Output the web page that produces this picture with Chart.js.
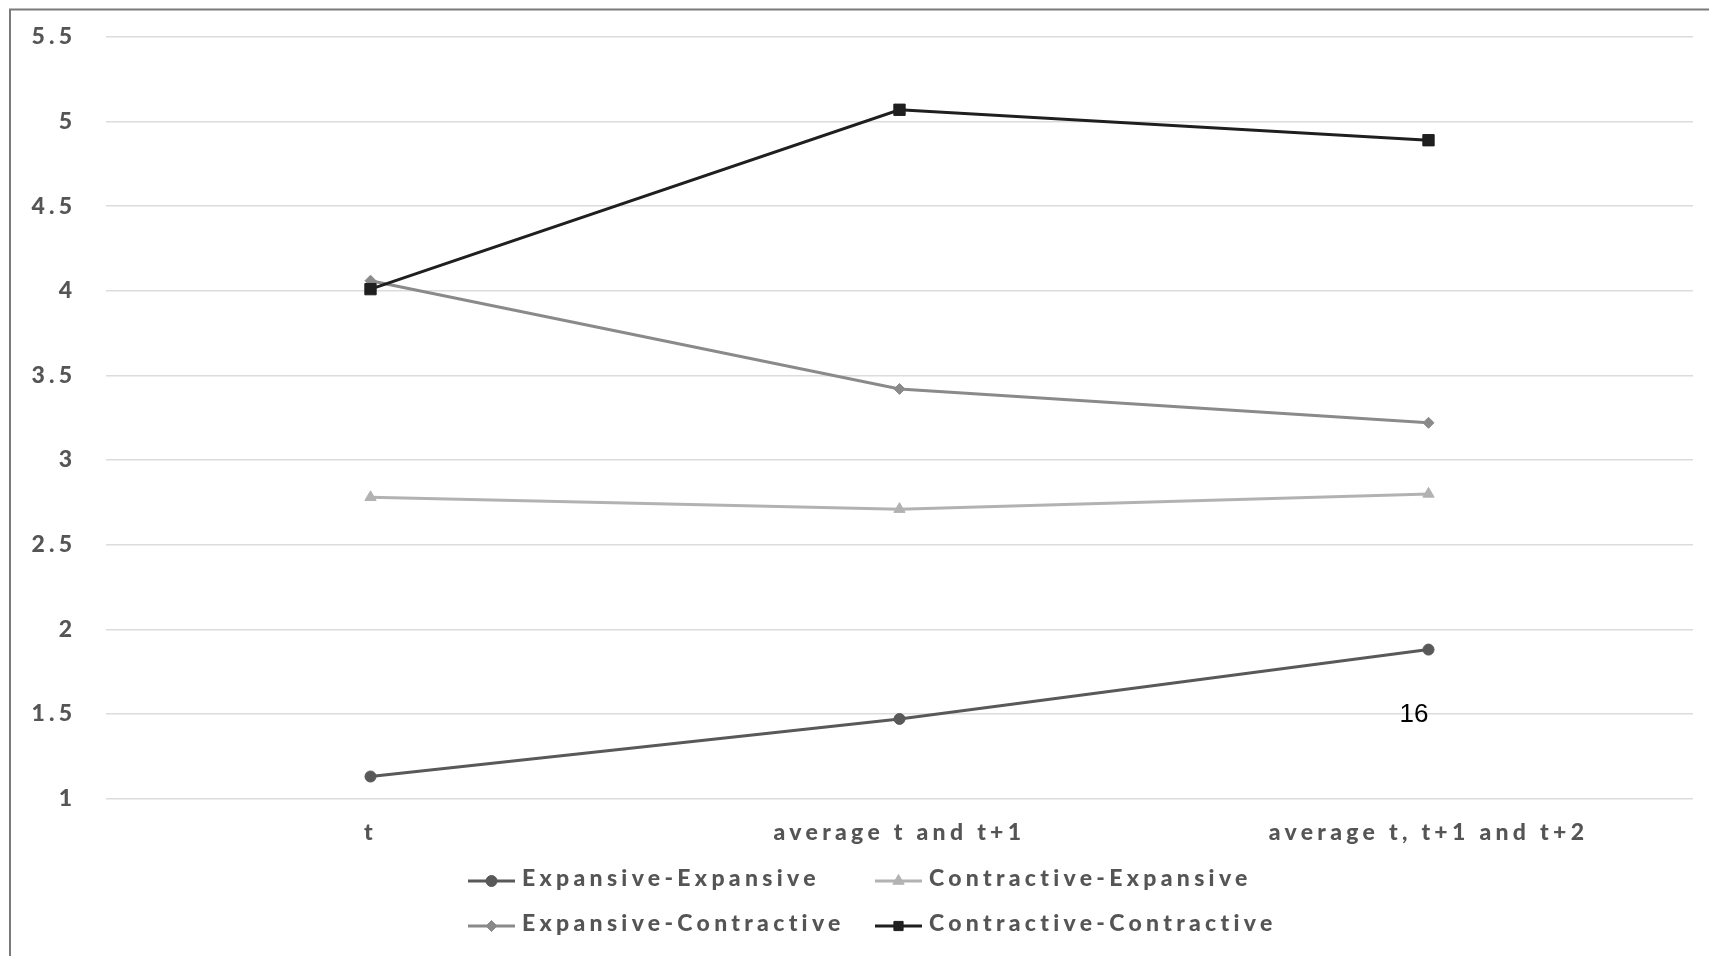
<!DOCTYPE html>
<html>
<head>
<meta charset="utf-8">
<script src="https://cdn.jsdelivr.net/npm/chart.js@4.4.1/dist/chart.umd.min.js"></script>
<style>
  html, body { margin: 0; padding: 0; background: #ffffff; }
  #wrap { position: relative; width: 1709px; height: 956px; }
</style>
</head>
<body>
<div id="wrap"><canvas id="c" width="1709" height="956"></canvas></div>
<script>
// ---- data ----
const categories = ['t', 'average t and t+1', 'average t, t+1 and t+2'];
const seriesNames = ['Expansive-Expansive', 'Contractive-Expansive', 'Expansive-Contractive', 'Contractive-Contractive'];
const expansiveExpansive = [1.13, 1.47, 1.88];
const contractiveExpansive = [2.78, 2.71, 2.80];
const expansiveContractive = [4.06, 3.42, 3.22];
const contractiveContractive = [4.01, 5.07, 4.89];
const yTickMin = 1;
const yTickMax = 5.5;
const yTickStep = 0.5;
const pageNumber = '16';

const TEXT = '#555555';
const FONT = 'Lato, "Open Sans", sans-serif';
const FONT_SIZE = 23;
const FONT_WEIGHT = '900';
const SPACING = '4.3px';

const styles = [
  { color: '#595959', point: 'circle', radius: 5.5 },
  { color: '#b2b2b2', point: 'triangle', radius: 6.5 },
  { color: '#8a8a8a', point: 'rectRot', radius: 5.5 },
  { color: '#1f1f1f', point: 'rect', radius: 8 }
];
const values = [expansiveExpansive, contractiveExpansive, expansiveContractive, contractiveContractive];

const datasets = seriesNames.map((name, i) => ({
  label: name,
  data: values[i],
  borderColor: styles[i].color,
  backgroundColor: styles[i].color,
  pointBackgroundColor: styles[i].color,
  pointBorderColor: styles[i].color,
  pointStyle: styles[i].point,
  pointRadius: styles[i].radius,
  pointHoverRadius: styles[i].radius,
  pointBorderWidth: 1,
  borderWidth: 3,
  tension: 0,
  order: 3 - i
}));

const spacingPlugin = {
  id: 'spacing',
  beforeLayout(chart) { chart.ctx.letterSpacing = SPACING; },
  beforeDraw(chart) { chart.ctx.letterSpacing = SPACING; }
};

const framePlugin = {
  id: 'frame',
  beforeDraw(chart) {
    const ctx = chart.ctx;
    ctx.save();
    ctx.fillStyle = '#ffffff';
    ctx.fillRect(0, 0, chart.width, chart.height);
    ctx.strokeStyle = '#7a7a7a';
    ctx.lineWidth = 2;
    ctx.beginPath();
    ctx.moveTo(10, 2000);
    ctx.lineTo(10, 9.5);
    ctx.lineTo(2000, 9.5);
    ctx.stroke();
    ctx.restore();
  }
};

const legendPlugin = {
  id: 'gridLegend',
  afterDraw(chart) {
    const ctx = chart.ctx;
    const cols = [468, 875];
    const rows = [881, 926];
    ctx.save();
    ctx.letterSpacing = SPACING;
    ctx.font = FONT_WEIGHT + ' ' + FONT_SIZE + 'px ' + FONT;
    ctx.textBaseline = 'alphabetic';
    ctx.textAlign = 'left';
    chart.data.datasets.forEach((ds, i) => {
      const x = cols[i % 2];
      const y = rows[Math.floor(i / 2)];
      ctx.strokeStyle = ds.borderColor;
      ctx.fillStyle = ds.borderColor;
      ctx.lineWidth = 3;
      ctx.beginPath();
      ctx.moveTo(x, y);
      ctx.lineTo(x + 47, y);
      ctx.stroke();
      ctx.lineWidth = 1;
      Chart.helpers.drawPoint(ctx, { pointStyle: ds.pointStyle, radius: Math.min(ds.pointRadius, 6.5), rotation: 0, borderWidth: 1 }, x + 23.5, y);
      ctx.fillStyle = TEXT;
      ctx.fillText(ds.label, x + 54, y + 5);
    });
    ctx.restore();
  }
};

const pageNumberPlugin = {
  id: 'pageNumber',
  afterDraw(chart) {
    const ctx = chart.ctx;
    ctx.save();
    ctx.letterSpacing = '0px';
    ctx.font = '26px "Liberation Sans", Arial, sans-serif';
    ctx.fillStyle = '#000000';
    ctx.textAlign = 'center';
    ctx.textBaseline = 'alphabetic';
    ctx.fillText(pageNumber, 1414, 722);
    ctx.restore();
  }
};

new Chart(document.getElementById('c'), {
  type: 'line',
  data: { labels: categories, datasets },
  options: {
    responsive: false,
    animation: false,
    devicePixelRatio: 1,
    layout: { padding: { top: 37, left: 0, right: 16, bottom: 0 } },
    plugins: {
      legend: { display: false },
      tooltip: { enabled: false },
      title: { display: false }
    },
    scales: {
      x: {
        type: 'category',
        offset: true,
        grid: { display: false, drawTicks: false },
        border: { display: false },
        ticks: {
          color: TEXT,
          font: { family: FONT, size: FONT_SIZE, weight: FONT_WEIGHT },
          padding: 20,
          maxRotation: 0,
          autoSkip: false
        },
        afterFit(scale) { scale.height = 157.5; scale.paddingLeft = 0; scale.paddingRight = 0; }
      },
      y: {
        min: yTickMin,
        max: yTickMax,
        grid: { color: '#dcdcdc', lineWidth: 1.5, drawTicks: false },
        border: { display: false },
        ticks: {
          stepSize: yTickStep,
          color: TEXT,
          font: { family: FONT, size: FONT_SIZE, weight: FONT_WEIGHT },
          padding: 29.5,
          callback: (v) => String(v)
        },
        afterFit(scale) { scale.width = 106; scale.paddingTop = 0; scale.paddingBottom = 0; }
      }
    }
  },
  plugins: [spacingPlugin, framePlugin, legendPlugin, pageNumberPlugin]
});
</script>
</body>
</html>
